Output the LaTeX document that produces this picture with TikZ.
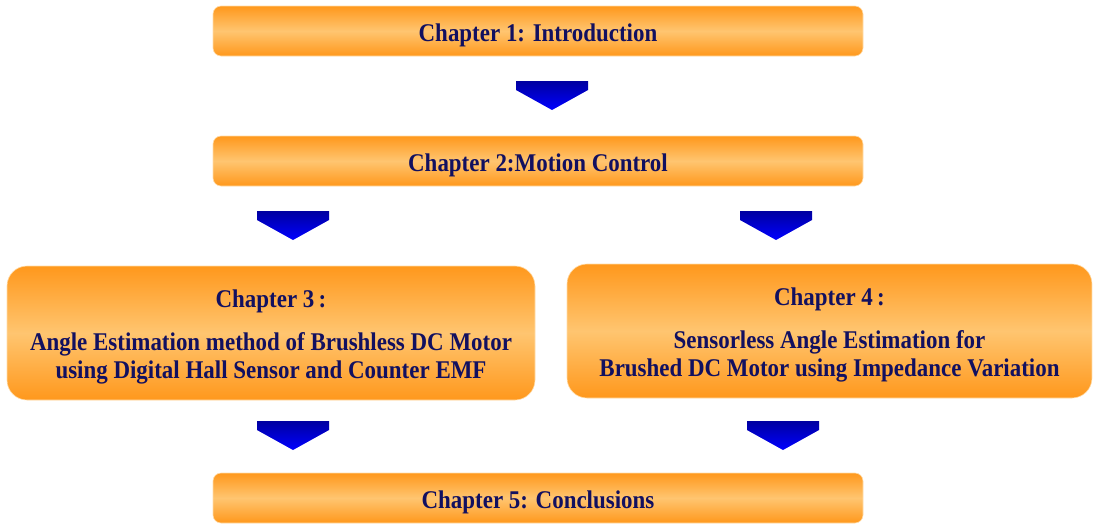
\documentclass[tikz,border=0pt]{standalone}
\usepackage{fontspec}
\setmainfont[FakeStretch=0.9]{Liberation Serif}
\definecolor{oedge}{RGB}{255,152,28}
\definecolor{omid}{RGB}{255,197,112}
\definecolor{navy}{RGB}{18,16,96}
\definecolor{bdark}{RGB}{0,0,160}
\definecolor{blight}{RGB}{0,0,255}
\tikzset{
  chap/.style={rounded corners=8pt, top color=oedge, bottom color=oedge, middle color=omid,
    draw=omid!60!white, line width=0.6pt, text=navy, font=\bfseries\fontsize{25.5}{28}\selectfont,
    inner sep=0pt, align=center},
  bar/.style={chap, minimum width=650pt, minimum height=50pt, text height=20pt, text depth=0pt},
  bigbox/.style={chap, rounded corners=20pt, minimum height=134pt},
  downarrow/.pic={\shade[top color=bdark, bottom color=blight]
    (-36,0) -- (36,0) -- (36,9) -- (0,29) -- (-36,9) -- cycle;}
}
\begin{document}
\begin{tikzpicture}[x=1pt,y=-1pt]
\useasboundingbox (0,0) rectangle (1093,525);
\node[bar] (c1) at (538,31) {Chapter 1: Introduction};
\node[bar] (c2) at (538,161) {Chapter 2:Motion Control};
\node[bigbox, minimum width=528pt] (c3) at (271,333)
  {\rule{0pt}{25pt}Chapter 3\,:\\[15pt]Angle Estimation method of Brushless DC Motor\\using Digital Hall Sensor and Counter EMF};
\node[bigbox, minimum width=525pt] (c4) at (829.5,331)
  {\rule{0pt}{25pt}Chapter 4\,:\\[15pt]Sensorless Angle Estimation for\\Brushed DC Motor using Impedance Variation};
\node[bar] (c5) at (538,498) {Chapter 5: Conclusions};
\coordinate (a1) at (552,81);
\coordinate (a2) at (293,211);
\coordinate (a3) at (776,211);
\coordinate (a4) at (293,421);
\coordinate (a5) at (783,421);
\foreach \a in {a1,a2,a3,a4,a5} \pic at (\a) {downarrow};
\end{tikzpicture}
\end{document}
